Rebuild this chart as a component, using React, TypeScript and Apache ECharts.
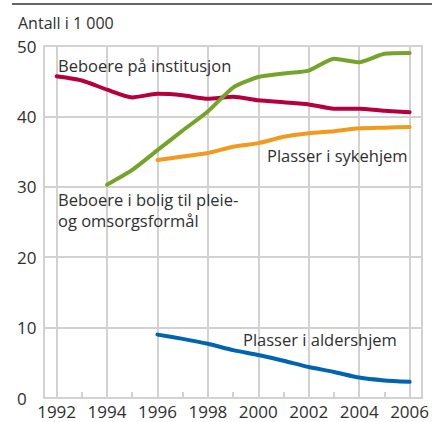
import React, { useEffect, useRef } from "react";
import * as echarts from "echarts";

const years = ["1992","1993","1994","1995","1996","1997","1998","1999","2000","2001","2002","2003","2004","2005","2006"];
const institusjon = [45.7, 45.1, 43.8, 42.7, 43.2, 43.0, 42.5, 42.8, 42.3, 42.0, 41.7, 41.1, 41.1, 40.8, 40.6];
const bolig = [null, null, 30.3, 32.4, 35.2, 38.0, 40.7, 44.1, 45.6, 46.1, 46.5, 48.2, 47.7, 48.9, 49.0];
const sykehjem = [null, null, null, null, 33.8, 34.3, 34.8, 35.7, 36.2, 37.1, 37.6, 37.9, 38.3, 38.4, 38.5];
const aldershjem = [null, null, null, null, 9.0, 8.4, 7.7, 6.8, 6.1, 5.3, 4.4, 3.7, 2.9, 2.5, 2.3];
const gridYears = ["1992","1994","1996","1998","2000","2002","2004","2006"];

const FONT = "'Open Sans', 'DejaVu Sans', sans-serif";
const GRID = "#d2d2d2";
const TXT = "#2f2f2f";

export default function App() {
  const ref = useRef<HTMLDivElement>(null);
  useEffect(() => {
    const chart = echarts.init(ref.current!, null, { renderer: "svg" });
    const lineStyle = (c: string) => ({ color: c, width: 4, cap: "round", join: "round" });
    const ann = `16.5px ${FONT}`;
    chart.setOption({
      animation: false,
      textStyle: { fontFamily: FONT },
      grid: { left: 44, right: 9, top: 46, bottom: 24 },
      xAxis: {
        type: "category",
        data: years,
        boundaryGap: true,
        axisLine: { show: true, lineStyle: { color: GRID, width: 2 } },
        axisTick: { show: true, alignWithLabel: true, interval: 0, inside: true, length: 6, lineStyle: { color: GRID, width: 2 } },
        axisLabel: { interval: 1, fontSize: 17, color: TXT, margin: 5, fontFamily: FONT },
        splitLine: { show: false },
      },
      yAxis: [
        {
          type: "value",
          min: 0,
          max: 50,
          interval: 10,
          axisLine: { show: true, lineStyle: { color: GRID, width: 2 } },
          axisTick: { show: false },
          axisLabel: { fontSize: 17, color: TXT, align: "left", margin: 27, fontFamily: FONT },
          splitLine: { show: true, lineStyle: { color: GRID, width: 2 } },
        },
        {
          type: "value",
          position: "right",
          min: 0,
          max: 50,
          interval: 10,
          axisLine: { show: true, lineStyle: { color: GRID, width: 2 } },
          axisTick: { show: false },
          axisLabel: { show: false },
          splitLine: { show: false },
        },
      ],
      series: [
        {
          type: "line",
          name: "Beboere på institusjon",
          data: institusjon,
          symbol: "none",
          smooth: 0.2,
          z: 3,
          lineStyle: lineStyle("#b5003c"),
          markLine: {
            silent: true,
            symbol: "none",
            z: 1,
            label: { show: false },
            lineStyle: { color: GRID, width: 2, type: "solid" },
            data: gridYears.map((y) => ({ xAxis: y })),
          },
        },
        { type: "line", name: "Beboere i bolig", data: bolig, symbol: "none", smooth: 0.2, z: 3, lineStyle: lineStyle("#76a32c") },
        { type: "line", name: "Plasser i sykehjem", data: sykehjem, symbol: "none", smooth: 0.2, z: 3, lineStyle: lineStyle("#f09a1e") },
        { type: "line", name: "Plasser i aldershjem", data: aldershjem, symbol: "none", smooth: 0.2, z: 3, lineStyle: lineStyle("#0064b0") },
      ],
      graphic: [
        { type: "line", shape: { x1: 12, y1: 4, x2: 432, y2: 4 }, style: { stroke: "#666666", lineWidth: 2 } },
        { type: "text", x: 18, y: 23, style: { text: "Antall i 1 000", font: `16px ${FONT}`, fill: TXT, verticalAlign: "middle" } },
        { type: "text", x: 58, y: 65, z: 10, style: { text: "Beboere på institusjon", font: ann, fill: TXT, verticalAlign: "middle" } },
        { type: "text", x: 267, y: 155, z: 10, style: { text: "Plasser i sykehjem", font: ann, fill: TXT, verticalAlign: "middle" } },
        { type: "text", x: 58, y: 199, z: 10, style: { text: "Beboere i bolig til pleie-", font: ann, fill: TXT, verticalAlign: "middle" } },
        { type: "text", x: 58, y: 220, z: 10, style: { text: "og omsorgsformål", font: ann, fill: TXT, verticalAlign: "middle" } },
        { type: "text", x: 243, y: 339, z: 10, style: { text: "Plasser i aldershjem", font: ann, fill: TXT, verticalAlign: "middle" } },
      ],
    });
    return () => chart.dispose();
  }, []);
  return <div ref={ref} style={{ width: 432, height: 422, position: "absolute", left: 0, top: 0 }} />;
}
